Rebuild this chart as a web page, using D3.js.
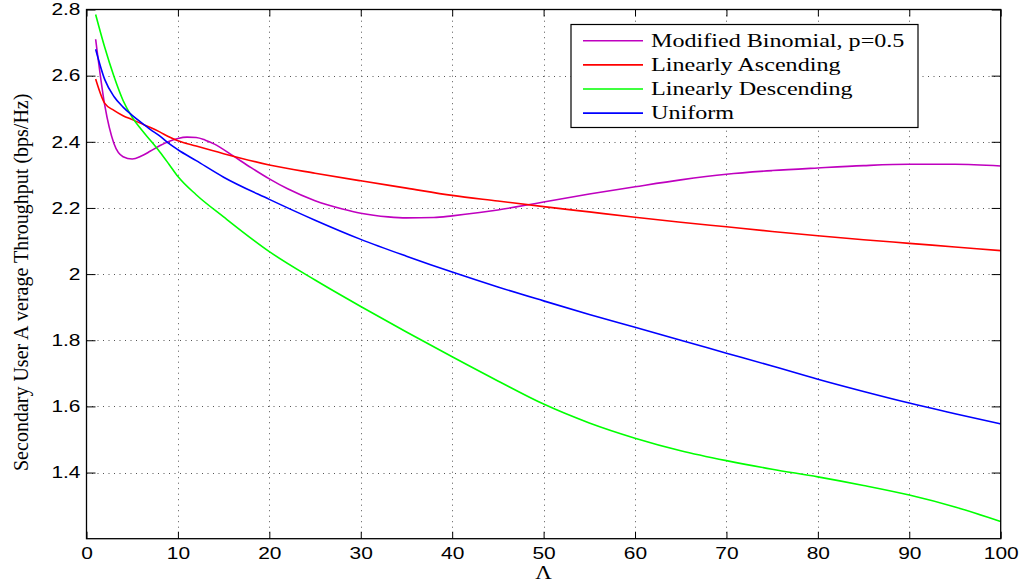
<!DOCTYPE html>
<html>
<head>
<meta charset="utf-8">
<script src="https://cdn.jsdelivr.net/npm/d3@7"></script>
<style>
  body { margin: 0; background: #fff; }
  svg { display: block; }
</style>
</head>
<body>
<div id="chart"></div>
<script>
// values
const xTicks = [0, 10, 20, 30, 40, 50, 60, 70, 80, 90, 100];
const yTicks = [1.4, 1.6, 1.8, 2.0, 2.2, 2.4, 2.6, 2.8];

const binomialX = [1, 2, 3, 4, 5, 6, 7, 8, 9, 10, 11, 12, 13, 14, 16, 18, 20, 22, 25, 28, 30, 33, 35, 38, 40, 43, 45, 48, 50, 55, 60, 65, 70, 75, 80, 85, 90, 95, 100];
const binomialY = [2.71, 2.51, 2.395, 2.355, 2.348, 2.357, 2.372, 2.388, 2.401, 2.41, 2.414, 2.413, 2.405, 2.393, 2.358, 2.322, 2.288, 2.258, 2.222, 2.197, 2.184, 2.173, 2.170, 2.171, 2.176, 2.186, 2.194, 2.208, 2.218, 2.242, 2.264, 2.285, 2.302, 2.313, 2.321, 2.328, 2.332, 2.332, 2.327];

const ascendingX = [1, 2, 3, 4, 5, 6, 7, 8, 9, 10, 12, 15, 20, 25, 30, 35, 40, 45, 50, 55, 60, 65, 70, 75, 80, 85, 90, 95, 100];
const ascendingY = [2.59, 2.516, 2.495, 2.479, 2.467, 2.455, 2.443, 2.43, 2.415, 2.403, 2.387, 2.364, 2.33, 2.305, 2.282, 2.26, 2.238, 2.221, 2.204, 2.188, 2.172, 2.157, 2.143, 2.129, 2.116, 2.104, 2.093, 2.082, 2.071];

const descendingX = [1, 2, 3, 4, 5, 6, 7, 8, 9, 10, 12, 15, 20, 25, 30, 35, 40, 45, 50, 55, 60, 65, 70, 75, 80, 85, 90, 95, 100];
const descendingY = [2.785, 2.685, 2.598, 2.525, 2.474, 2.437, 2.404, 2.37, 2.333, 2.295, 2.24, 2.173, 2.068, 1.982, 1.902, 1.825, 1.75, 1.677, 1.607, 1.55, 1.504, 1.466, 1.436, 1.41, 1.387, 1.361, 1.332, 1.296, 1.252];

const uniformX = [1, 2, 3, 4, 5, 6, 7, 8, 9, 10, 12, 15, 20, 25, 30, 35, 40, 45, 50, 55, 60, 65, 70, 75, 80, 85, 90, 95, 100];
const uniformY = [2.68, 2.588, 2.537, 2.505, 2.48, 2.458, 2.437, 2.418, 2.395, 2.376, 2.343, 2.293, 2.226, 2.163, 2.105, 2.054, 2.006, 1.961, 1.919, 1.878, 1.839, 1.80, 1.761, 1.722, 1.682, 1.645, 1.610, 1.578, 1.547];

const seriesNames = ["Modified Binomial, p=0.5", "Linearly Ascending", "Linearly Descending", "Uniform"];
const seriesColors = ["#bf00bf", "#ff0000", "#00ff00", "#0000ff"];

const series = [
  { name: seriesNames[0], color: seriesColors[0], xs: binomialX, ys: binomialY },
  { name: seriesNames[1], color: seriesColors[1], xs: ascendingX, ys: ascendingY },
  { name: seriesNames[2], color: seriesColors[2], xs: descendingX, ys: descendingY },
  { name: seriesNames[3], color: seriesColors[3], xs: uniformX, ys: uniformY },
];

const width = 1025, height = 583;
const margin = { top: 9.5, right: 24.3, bottom: 44.3, left: 86.5 };
const innerW = width - margin.left - margin.right;
const innerH = height - margin.top - margin.bottom;
// the original figure was exported with horizontally stretched text
const stretch = 1.27;
const serif = "'Liberation Serif', 'Times New Roman', serif";

const svg = d3.select("#chart")
  .append("svg")
  .attr("width", width)
  .attr("height", height)
  .attr("viewBox", [0, 0, width, height]);

const x = d3.scaleLinear().domain([0, 100]).range([margin.left, margin.left + innerW]);
const y = d3.scaleLinear().domain([1.2, 2.8]).range([margin.top + innerH, margin.top]);

// dotted grid
const grid = svg.append("g").attr("stroke", "#555").attr("stroke-width", 1)
  .attr("stroke-dasharray", "1,4.5");
grid.selectAll(".gx").data(xTicks.slice(1, -1)).enter().append("line")
  .attr("x1", d => Math.round(x(d)) + 0.5).attr("x2", d => Math.round(x(d)) + 0.5)
  .attr("y1", y.range()[0]).attr("y2", y.range()[1]);
grid.selectAll(".gy").data(yTicks.filter(d => d < 2.8)).enter().append("line")
  .attr("y1", d => Math.round(y(d)) + 0.5).attr("y2", d => Math.round(y(d)) + 0.5)
  .attr("x1", x.range()[0]).attr("x2", x.range()[1]);

// curves
const line = d3.line()
  .x(d => x(d[0]))
  .y(d => y(d[1]))
  .curve(d3.curveMonotoneX);

svg.append("g").selectAll("path")
  .data(series)
  .enter()
  .append("path")
  .attr("fill", "none")
  .attr("stroke", d => d.color)
  .attr("stroke-width", 1.6)
  .attr("d", d => line(d.xs.map((v, i) => [v, d.ys[i]])));

// axes, ticks pointing inward like matlab
const fmt = d => String(+d.toFixed(1));
const tickFont = g => g.selectAll("text")
  .attr("font-family", "'Liberation Sans', Arial, sans-serif")
  .attr("font-size", 16.5)
  .attr("fill", "#000")
  .attr("transform", `scale(${stretch},1)`);
const cleanAxis = g => {
  g.select(".domain").remove();
  g.selectAll(".tick line").attr("stroke", "#000");
};

svg.append("g")
  .attr("transform", `translate(0,${y.range()[0]})`)
  .call(d3.axisBottom(x).tickValues(xTicks).tickSize(-7).tickPadding(9))
  .call(cleanAxis).call(tickFont);
svg.append("g")
  .attr("transform", `translate(0,${y.range()[1]})`)
  .call(d3.axisTop(x).tickValues(xTicks).tickSize(-7).tickFormat(""))
  .call(cleanAxis);
svg.append("g")
  .attr("transform", `translate(${x.range()[0]},0)`)
  .call(d3.axisLeft(y).tickValues(yTicks).tickFormat(fmt).tickSize(-9).tickPadding(6 / stretch))
  .call(cleanAxis).call(tickFont);
svg.append("g")
  .attr("transform", `translate(${x.range()[1]},0)`)
  .call(d3.axisRight(y).tickValues(yTicks).tickSize(-9).tickFormat(""))
  .call(cleanAxis);

// frame
svg.append("rect")
  .attr("x", x.range()[0]).attr("y", y.range()[1])
  .attr("width", innerW).attr("height", innerH)
  .attr("fill", "none").attr("stroke", "#000").attr("stroke-width", 1.3);

// y label (the original shows a small gap after the "A")
const ylab = svg.append("text")
  .attr("transform", "translate(28, 471) rotate(-90)")
  .attr("text-anchor", "start")
  .attr("font-family", serif)
  .attr("font-size", 20);
ylab.append("tspan").text("Secondary User A");
ylab.append("tspan").attr("dx", 6).text("verage Throughput (bps/Hz)");

svg.append("text")
  .attr("transform", `translate(${x(50)},579) scale(${stretch},1)`)
  .attr("text-anchor", "middle")
  .attr("font-family", serif)
  .attr("font-size", 18)
  .text("Λ");

// legend
const legend = svg.append("g").attr("transform", "translate(571,24.5)");
legend.append("rect")
  .attr("width", 347).attr("height", 103)
  .attr("fill", "#fff").attr("stroke", "#000").attr("stroke-width", 1.2);
const item = legend.selectAll(".item").data(series).enter().append("g")
  .attr("transform", (d, i) => `translate(0,${16.3 + i * 24.1})`);
item.append("line")
  .attr("x1", 12).attr("x2", 72)
  .attr("stroke", d => d.color).attr("stroke-width", 1.6);
item.append("text")
  .attr("transform", `translate(80,0) scale(${stretch},1)`)
  .attr("dy", "0.33em")
  .attr("font-family", serif)
  .attr("font-size", 19)
  .text(d => d.name);
</script>
</body>
</html>
